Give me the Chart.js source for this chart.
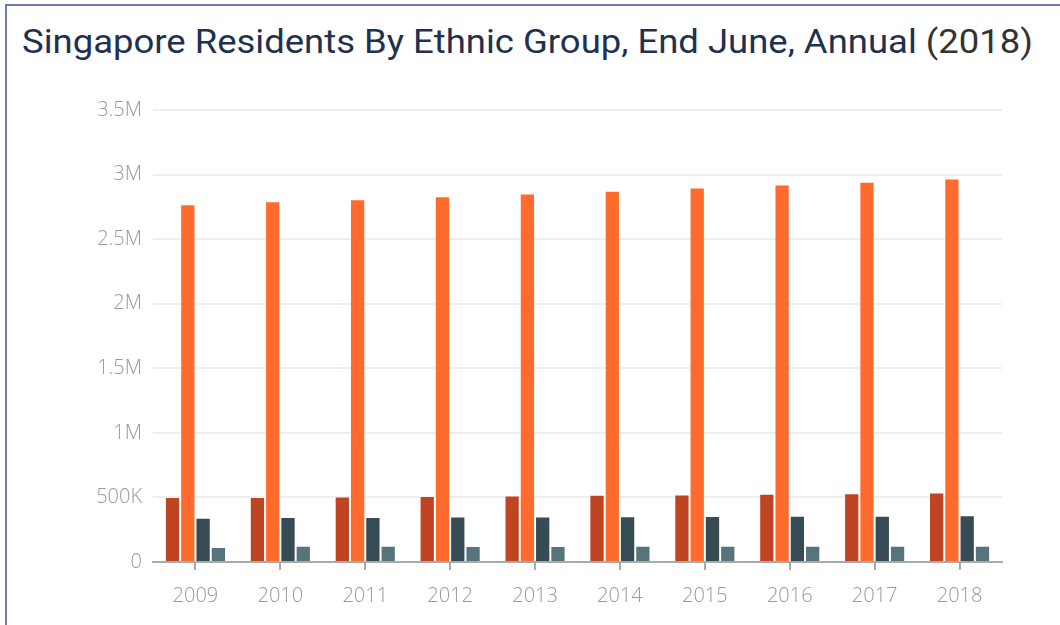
<!DOCTYPE html>
<html>
<head>
<meta charset="utf-8">
<script src="https://cdn.jsdelivr.net/npm/chart.js@4"></script>
<style>
  html, body { margin: 0; padding: 0; background: #fff; }
  body { width: 1060px; height: 625px; position: relative; overflow: hidden; }
  #frame { position: absolute; left: 5px; top: 4px; width: 1070px; height: 640px;
           border-left: 2px solid #737ca9; border-top: 2px solid #737ca9; box-sizing: border-box; }
  #title { position: absolute; left: 22px; top: 21px; font-family: Roboto, sans-serif;
           font-size: 34px; font-weight: 400; color: #1e3150; white-space: nowrap;
           transform-origin: 0 0; }
  #title span { color: #333; }
  #wrap { position: absolute; left: 0; top: 0; width: 1060px; height: 625px; }
</style>
</head>
<body>
<div id="frame"></div>
<div id="title">Singapore Residents By Ethnic Group, End June, Annual <span>(2018)</span></div>
<div id="wrap"><canvas id="c" width="1060" height="625"></canvas></div>
<script>
const years = ["2009","2010","2011","2012","2013","2014","2015","2016","2017","2018"];
const malays  = [503900, 503900, 506600, 510600, 515000, 520000, 523600, 527600, 532800, 537400];
const chinese = [2770300, 2794000, 2808300, 2832000, 2853800, 2874800, 2900000, 2923000, 2944000, 2969300];
const indians = [343500, 348100, 349000, 351700, 351700, 354500, 356700, 357900, 358700, 362300];
const others  = [115700, 125100, 125100, 124300, 124300, 126100, 126100, 126000, 125900, 125800];
const seriesNames = ["Malays", "Chinese", "Indians", "Others"];
const seriesColors = ["#bf4422", "#ff6b2c", "#364b53", "#57737b"];
const yTickLabels = {0: "0", 500000: "500K", 1000000: "1M", 1500000: "1.5M", 2000000: "2M", 2500000: "2.5M", 3000000: "3M", 3500000: "3.5M"};

// fit title width to reference span
(function () {
  const t = document.getElementById('title');
  const target = 1011;
  const w = t.getBoundingClientRect().width;
  t.style.transform = 'scaleX(' + (target / w) + ')';
})();

const tickFont = { family: 'Open Sans', size: 20, weight: 300 };
const seriesData = [malays, chinese, indians, others];
new Chart(document.getElementById('c'), {
  type: 'bar',
  data: {
    labels: years,
    datasets: seriesData.map((d, i) => ({
      label: seriesNames[i],
      data: d,
      backgroundColor: seriesColors[i],
      borderColor: 'rgba(255,255,255,0.45)',
      borderWidth: 1,
      barPercentage: 1,
      categoryPercentage: 0.72
    }))
  },
  options: {
    responsive: false,
    animation: false,
    layout: { padding: { top: 110, right: 58, bottom: 3, left: 0 } },
    plugins: { legend: { display: false }, title: { display: false }, tooltip: { enabled: false } },
    scales: {
      x: {
        grid: { offset: false, drawOnChartArea: false, drawTicks: true, tickLength: 8, tickColor: '#aaaaaa', lineWidth: 2 },
        border: { color: '#aaaaaa', width: 2 },
        ticks: { color: '#999999', font: tickFont, padding: 14 }
      },
      y: {
        min: 0, max: 3500000,
        afterFit: (s) => { s.width = 153; },
        grid: { color: '#eeeeee', lineWidth: 2, drawTicks: false },
        border: { display: false },
        ticks: { stepSize: 500000, color: '#999999', padding: 11, font: tickFont,
                 callback: (v) => yTickLabels[v] }
      }
    }
  }
});
</script>
</body>
</html>
